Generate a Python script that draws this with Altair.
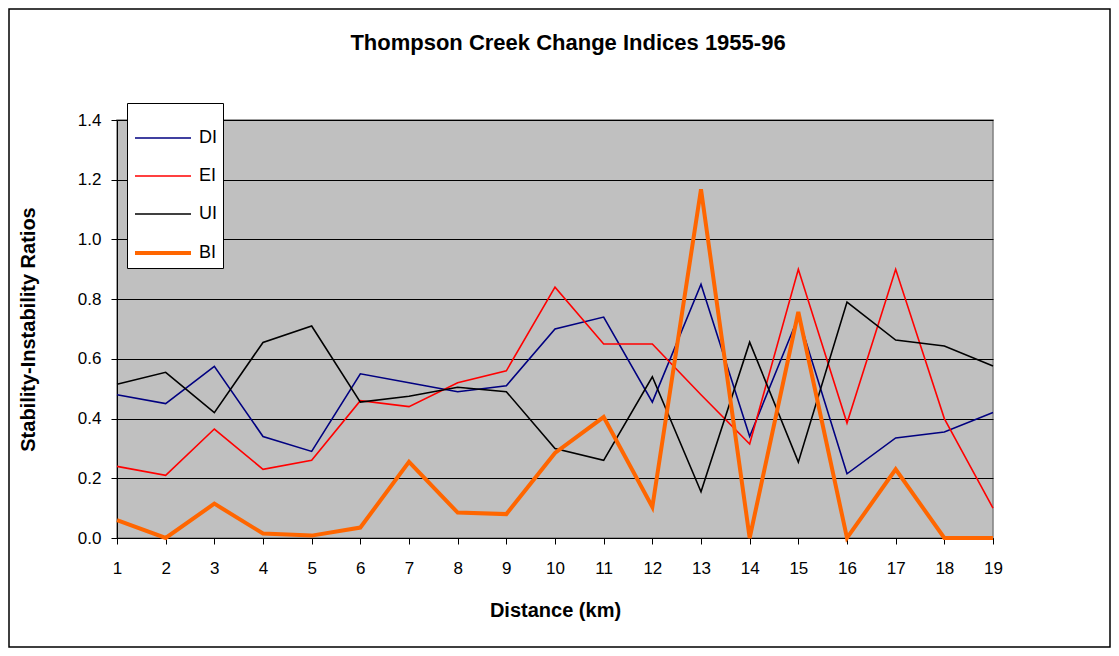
import altair as alt
import pandas as pd

distance = list(range(1, 20))
DI = [0.48, 0.45, 0.575, 0.34, 0.29, 0.55, 0.52, 0.49, 0.51, 0.70, 0.74, 0.455, 0.85, 0.34, 0.74, 0.215, 0.335, 0.355, 0.42]
EI = [0.24, 0.21, 0.365, 0.23, 0.26, 0.46, 0.44, 0.52, 0.56, 0.84, 0.65, 0.65, 0.48, 0.315, 0.90, 0.385, 0.90, 0.40, 0.10]
UI = [0.515, 0.555, 0.42, 0.655, 0.71, 0.455, 0.475, 0.505, 0.49, 0.30, 0.26, 0.54, 0.155, 0.656, 0.254, 0.79, 0.663, 0.643, 0.576]
BI = [0.06, 0.0, 0.115, 0.015, 0.008, 0.035, 0.255, 0.085, 0.08, 0.285, 0.405, 0.104, 1.168, 0.0, 0.757, 0.0, 0.23, 0.0, 0.0]

series_names = ["DI", "EI", "UI", "BI"]
series_colors = ["#000080", "#FF0000", "#000000", "#FF6600"]
series_widths = [1.6, 1.6, 1.6, 4]

rows = []
for name, vals in zip(series_names, [DI, EI, UI, BI]):
    for d, v in zip(distance, vals):
        rows.append({"Distance": d, "Value": v, "Series": name})
df = pd.DataFrame(rows)

FONT = "Liberation Sans"
W, H = 876, 418
PL, PT = 109, 112
TOTW, TOTH = 1103, 640

legend_common = dict(title=None, orient="none", legendX=10, legendY=-17,
                     fillColor="white", strokeColor="black",
                     padding=6, symbolType="stroke", symbolSize=3136,
                     labelFontSize=18, labelColor="black", labelOffset=6,
                     rowPadding=-5, labelFont=FONT)

lines = alt.Chart(df).mark_line(clip=False).encode(
    x=alt.X("Distance:Q",
            scale=alt.Scale(domain=[1, 19], nice=False, zero=False),
            axis=alt.Axis(values=distance, title="Distance (km)", grid=False,
                          tickColor="black", domainColor="black", tickSize=6,
                          labelFontSize=17, labelPadding=16, labelColor="black",
                          labelFlush=False,
                          titleFontSize=20, titleFontWeight="bold", titleColor="black",
                          titleY=72, titleBaseline="middle")),
    y=alt.Y("Value:Q",
            scale=alt.Scale(domain=[0, 1.4], nice=False),
            axis=alt.Axis(values=[0, 0.2, 0.4, 0.6, 0.8, 1.0, 1.2, 1.4], format=".1f",
                          title="Stability-Instability Ratios", grid=True,
                          gridColor="black", gridOpacity=1, gridWidth=1,
                          tickColor="black", domainColor="black", tickSize=6,
                          labelFontSize=17, labelPadding=10, labelColor="black",
                          labelFlush=False,
                          titleFontSize=20, titleFontWeight="bold", titleColor="black",
                          titleX=-89, titleBaseline="middle")),
    color=alt.Color("Series:N",
                    scale=alt.Scale(domain=series_names, range=series_colors),
                    legend=alt.Legend(**legend_common)),
    strokeWidth=alt.StrokeWidth("Series:N",
                                scale=alt.Scale(type="ordinal", domain=series_names, range=series_widths),
                                legend=alt.Legend(**legend_common)),
    order=alt.Order("Distance:Q"),
)

border = alt.Chart(pd.DataFrame({"a": [0]})).mark_rect(
    fill=None, stroke="black", strokeWidth=1.5, clip=False
).encode(
    x=alt.value(-PL + 1), x2=alt.value(TOTW - PL - 1),
    y=alt.value(-PT + 1), y2=alt.value(TOTH - PT - 1),
)

chart = alt.layer(border, lines).properties(
    width=W, height=H,
    padding={"left": PL, "top": PT, "right": TOTW - PL - W, "bottom": TOTH - PT - H},
    autosize=alt.AutoSizeParams(type="none"),
    title=alt.TitleParams("Thompson Creek Change Indices 1955-96", fontSize=22,
                          font=FONT, fontWeight="bold", color="black",
                          anchor="middle", dx=13, offset=26, dy=83, baseline="middle"),
    background="white",
).configure_view(
    fill="#C0C0C0", stroke="#808080", strokeWidth=1.5
).configure_axis(labelFont=FONT, titleFont=FONT).configure_legend(labelFont=FONT)

chart.save("out.html", embed_options={"renderer": "svg", "actions": False})
